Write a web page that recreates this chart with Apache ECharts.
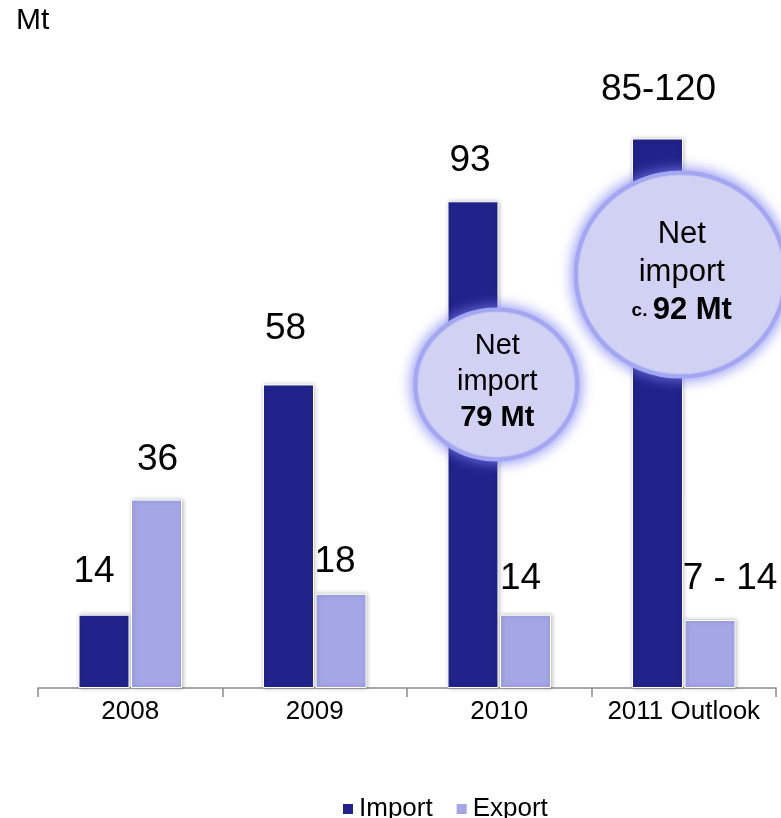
<!DOCTYPE html>
<html>
<head>
<meta charset="utf-8">
<script src="https://cdn.jsdelivr.net/npm/echarts@6/dist/echarts.min.js"></script>
<style>
html,body{margin:0;padding:0;background:#fff;}
#c{width:781px;height:818px;}
</style>
</head>
<body>
<div id="c"></div>
<script>
// ---- data ----
var categories = ['2008', '2009', '2010', '2011 Outlook'];
var importValues = [14, 58, 93, 105];
var exportValues = [36, 18, 14, 13];
var importLabels = ['14', '58', '93', '85-120'];
var exportLabels = ['36', '18', '14', '7 - 14'];
var unitLabel = 'Mt';
var bubbleTexts = [
  { category: '2010', value: 58, lines: ['Net', 'import'], prefix: '', amount: '79 Mt' },
  { category: '2011 Outlook', value: 79, lines: ['Net', 'import'], prefix: 'c. ', amount: '92 Mt' }
];

// ---- layout (not data) ----
var importLabelOffsets = [[-10, -43], [-3, -56], [-3, -41], [1, -49]];
var exportLabelOffsets = [[1, -40], [-6, -32], [-5, -36], [20, -41]];
var bubbleShapes = [
  { dx: -3, dy: 0, rx: 81, ry: 75, font: 29, small: 18, lineH: 36 },
  { dx: -3, dy: 0, rx: 105, ry: 102, font: 31, small: 19, lineH: 38 }
];

var FONT = 'Liberation Sans, Arial, sans-serif';
var IMPORT_COLOR = '#22238A';
var EXPORT_COLOR = '#A4A6E6';

function makeData(values, labels, offsets) {
  return values.map(function (v, i) {
    return {
      value: v,
      label: {
        show: true,
        formatter: labels[i],
        position: ['50%', 0],
        offset: offsets[i],
        align: 'center',
        verticalAlign: 'middle'
      }
    };
  });
}

var chart = echarts.init(document.getElementById('c'), null, { renderer: 'canvas' });

var barStyle = function (color) {
  return {
    color: color,
    borderColor: '#ffffff',
    borderWidth: 1,
    shadowColor: 'rgba(0,0,0,0.25)',
    shadowBlur: 4,
    shadowOffsetX: 1,
    shadowOffsetY: 0
  };
};

var option = {
  backgroundColor: '#ffffff',
  animation: false,
  textStyle: { fontFamily: FONT },
  grid: { left: 38, right: 5, top: 60, bottom: 130 },
  legend: {
    left: 336,
    top: 791,
    icon: 'rect',
    itemWidth: 12,
    itemHeight: 12,
    itemGap: 22,
    textStyle: { fontSize: 26, color: '#000', fontFamily: FONT },
    data: ['Import', 'Export']
  },
  xAxis: {
    type: 'category',
    data: categories,
    boundaryGap: true,
    axisLine: { show: true, lineStyle: { color: '#8c8c8c', width: 1.5 } },
    axisTick: { show: true, interval: 0, length: 9, lineStyle: { color: '#8c8c8c', width: 1.5 } },
    axisLabel: { interval: 0, fontSize: 26, color: '#000', margin: 11, fontFamily: FONT, hideOverlap: false }
  },
  yAxis: {
    type: 'value',
    min: 0,
    max: 120,
    show: false,
    splitLine: { show: false }
  },
  series: [
    {
      name: 'Import',
      type: 'bar',
      barWidth: 51,
      barGap: '3%',
      itemStyle: barStyle(IMPORT_COLOR),
      label: { fontSize: 37, color: '#000', fontFamily: FONT },
      data: makeData(importValues, importLabels, importLabelOffsets),
      z: 2
    },
    {
      name: 'Export',
      type: 'bar',
      barWidth: 51,
      barGap: '3%',
      itemStyle: barStyle(EXPORT_COLOR),
      label: { fontSize: 37, color: '#000', fontFamily: FONT },
      data: makeData(exportValues, exportLabels, exportLabelOffsets),
      z: 2
    }
  ],
  graphic: [
    {
      type: 'text',
      left: 16,
      top: 6,
      style: { text: unitLabel, fill: '#000', font: '30px ' + FONT }
    }
  ]
};

chart.setOption(option);

// bubbles (annotations) positioned from data coordinates
var extra = [];
bubbleTexts.forEach(function (b, i) {
  var p = chart.convertToPixel({ gridIndex: 0 }, [b.category, b.value]);
  var s = bubbleShapes[i];
  var cx = p[0] + s.dx, cy = p[1] + s.dy;
  extra.push({
    type: 'ellipse',
    shape: { cx: cx, cy: cy, rx: s.rx, ry: s.ry },
    style: {
      fill: '#D1D2F3',
      stroke: '#A3A6F1',
      lineWidth: 4,
      shadowBlur: 14,
      shadowColor: 'rgba(120,125,240,0.95)'
    },
    z: 10
  });
  extra.push({
    type: 'ellipse',
    shape: { cx: cx, cy: cy, rx: s.rx - 3, ry: s.ry - 3 },
    style: { fill: '#D1D2F3' },
    z: 10
  });
  var rich = {
    n: { fontSize: s.font, fontFamily: FONT, fill: '#000', lineHeight: s.lineH, align: 'center' },
    c: { fontSize: s.small, fontWeight: 'bold', fontFamily: FONT, fill: '#000', lineHeight: s.lineH },
    b: { fontSize: s.font, fontWeight: 'bold', fontFamily: FONT, fill: '#000', lineHeight: s.lineH }
  };
  var txt = b.lines.map(function (l) { return '{n|' + l + '}'; }).join('\n') + '\n' +
    (b.prefix ? '{c|' + b.prefix + '}' : '') + '{b|' + b.amount + '}';
  extra.push({
    type: 'text',
    x: cx + 1,
    y: cy - 2,
    style: {
      text: txt,
      rich: rich,
      align: 'center',
      verticalAlign: 'middle',
      textAlign: 'center',
      textVerticalAlign: 'middle'
    },
    z: 11
  });
});
option.graphic = option.graphic.concat(extra);
chart.setOption({ graphic: option.graphic });
</script>
</body>
</html>
